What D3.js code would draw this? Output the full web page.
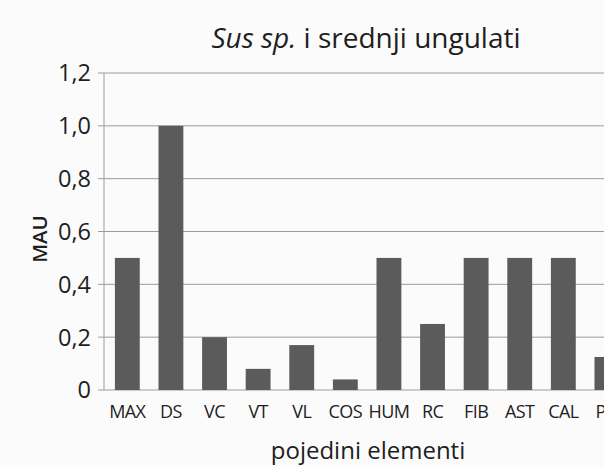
<!DOCTYPE html>
<html>
<head>
<meta charset="utf-8">
<script src="https://cdn.jsdelivr.net/npm/d3@7"></script>
<style>
  body { margin: 0; background: #fbfbfb; }
  svg { display: block; font-family: "Open Sans", sans-serif; }
</style>
</head>
<body>
<div id="chart"></div>
<script>
// MAU values per skeletal element
const categories = ["MAX", "DS", "VC", "VT", "VL", "COS", "HUM", "RC", "FIB", "AST", "CAL", "PH"];
const values = [0.5, 1.0, 0.2, 0.08, 0.17, 0.04, 0.5, 0.25, 0.5, 0.5, 0.5, 0.125];
const yTicks = [0, 0.2, 0.4, 0.6, 0.8, 1.0, 1.2];

const width = 604, height = 467;
const plotLeft = 104, plotTop = 73, plotBottom = 390;
const step = 43.6;

const svg = d3.select("#chart").append("svg")
    .attr("width", width)
    .attr("height", height);

svg.append("rect")
    .attr("width", width)
    .attr("height", height)
    .attr("fill", "#fbfbfb");

const x = d3.scaleBand()
    .domain(categories)
    .range([plotLeft, plotLeft + step * (categories.length - 0.43 + 0.5)])
    .paddingInner(0.43)
    .paddingOuter(0.25);

const y = d3.scaleLinear().domain([0, 1.2]).range([plotBottom, plotTop]);

// gridlines
svg.selectAll(".grid")
    .data(yTicks)
    .enter()
    .append("line")
    .attr("x1", plotLeft - 6)
    .attr("x2", width)
    .attr("y1", d => y(d))
    .attr("y2", d => y(d))
    .attr("stroke", "#9c9c9c")
    .attr("stroke-width", 1);

// left axis line
svg.append("line")
    .attr("x1", plotLeft).attr("x2", plotLeft)
    .attr("y1", plotTop).attr("y2", plotBottom)
    .attr("stroke", "#9c9c9c");

// y tick labels
svg.selectAll(".ylab")
    .data(yTicks)
    .enter()
    .append("text")
    .attr("x", plotLeft - 13)
    .attr("y", d => y(d))
    .attr("dy", "0.36em")
    .attr("text-anchor", "end")
    .attr("font-size", 23.5)
    .attr("fill", "#1e1e1e")
    .text(d => d === 0 ? "0" : d3.format(".1f")(d).replace(".", ","));

// bars
svg.selectAll(".bar")
    .data(values)
    .enter()
    .append("rect")
    .attr("x", (d, i) => x(categories[i]))
    .attr("y", d => y(d))
    .attr("width", x.bandwidth())
    .attr("height", d => plotBottom - y(d))
    .attr("fill", "#5b5b5b");

// category labels
svg.selectAll(".xlab")
    .data(categories)
    .enter()
    .append("text")
    .attr("x", d => x(d) + x.bandwidth() / 2)
    .attr("y", 418)
    .attr("text-anchor", "middle")
    .attr("font-size", 18)
    .attr("letter-spacing", -0.6)
    .attr("fill", "#1e1e1e")
    .text(d => d);

// title
const title = svg.append("text")
    .attr("x", 366)
    .attr("y", 48)
    .attr("text-anchor", "middle")
    .attr("font-size", 28)
    .attr("fill", "#1e1e1e");
title.append("tspan").attr("font-style", "italic").text("Sus sp.");
title.append("tspan").text(" i srednji ungulati");

// axis titles
svg.append("text")
    .attr("x", 368)
    .attr("y", 459)
    .attr("text-anchor", "middle")
    .attr("font-size", 24)
    .attr("fill", "#1e1e1e")
    .text("pojedini elementi");

svg.append("text")
    .attr("transform", "translate(47,239) rotate(-90)")
    .attr("text-anchor", "middle")
    .attr("font-size", 20.5)
    .attr("font-weight", 600)
    .attr("fill", "#1e1e1e")
    .text("MAU");
</script>
</body>
</html>
